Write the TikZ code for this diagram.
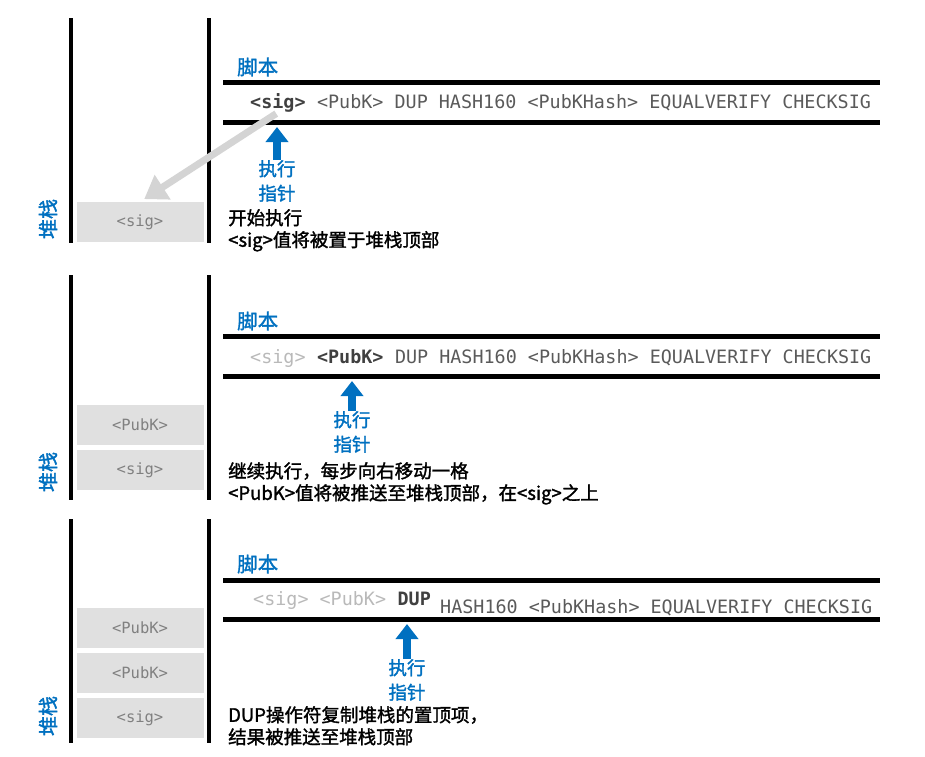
\documentclass[tikz,border=0pt]{standalone}
\usepackage{fontspec}
\setmainfont{Noto Sans CJK SC}
\newfontfamily\heavyfont{Noto Sans CJK SC}[FakeBold=1.6]
\newfontfamily\codefont{DejaVu Sans Mono}
\usetikzlibrary{positioning, arrows.meta}
\definecolor{ptrblue}{RGB}{0,112,192}
\definecolor{cellgray}{RGB}{224,224,224}
\definecolor{codegray}{RGB}{90,90,90}
\definecolor{donegray}{RGB}{185,185,185}
\definecolor{movegray}{RGB}{212,212,212}

\tikzset{
  wall/.style={line width=4.5pt},
  track/.style={line width=5pt},
  cell/.style={fill=cellgray, text=gray, minimum width=127pt, minimum height=40pt, inner sep=0pt, font=\codefont\fontsize{15.5}{17}\selectfont},
  code/.style={inner sep=0pt, text=codegray, anchor=base west, font=\codefont\fontsize{18.4}{20}\selectfont},
  done/.style={code, text=donegray},
  cur/.style={code, text=black!75, font=\codefont\bfseries\fontsize{18.4}{20}\selectfont},
  title/.style={text=ptrblue, inner sep=0pt, anchor=west, font=\heavyfont\fontsize{20.5}{22}\selectfont},
  stk/.style={text=ptrblue, inner sep=0pt, rotate=90, font=\heavyfont\fontsize{20}{22}\selectfont},
  ptr/.style={text=ptrblue, inner sep=0pt, align=center, anchor=north, font=\heavyfont\fontsize{18.5}{24.5}\selectfont},
  ptrarrow/.style={draw=ptrblue, line width=8pt, -{Triangle[width=22pt,length=15pt]}, shorten >=5pt},
  move/.style={draw=movegray, line width=7pt, -{Triangle[width=28pt,length=22pt]}, shorten >=5pt, shorten <=2pt},
  note/.style={inner sep=0pt, align=left, anchor=north west, font=\heavyfont\fontsize{18.5}{22}\selectfont},
}

\begin{document}
\begin{tikzpicture}[x=1pt,y=-1pt]
\useasboundingbox (0,0) rectangle (925,756);

% step 1
\draw[wall] (71,18) -- (71,243);
\draw[wall] (209,18) -- (209,243);
\node[cell] (c1a) at (140,222) {<sig>};
\node[stk] (k1) at (48,219) {堆栈};
\node[title] (t1) at (237,67) {脚本};
\draw[track] (223,82) coordinate (u1) -- (880,82);
\draw[track] (223,122) coordinate (d1) -- (880,122);
\node[cur] (s1) at (250,108.5) {<sig>};
\node[code, base right=0pt of s1] (s1b) {\ <PubK> DUP HASH160 <PubKHash> EQUALVERIFY CHECKSIG};
\draw[move] (s1.south) -- (c1a.north);
\node[ptr] (p1) at (277,160) {执行\\指针};
\draw[ptrarrow] (p1.north) -- (p1.north |- d1);
\node[note] (n1) at (228,209) {开始执行\\<sig>值将被置于堆栈顶部};

% step 2
\draw[wall] (71,275) -- (71,500);
\draw[wall] (209,275) -- (209,500);
\node[cell] (c2b) at (140,425) {<PubK>};
\node[cell] (c2a) at (140,470) {<sig>};
\node[stk] (k2) at (48,472) {堆栈};
\node[title] (t2) at (237,321) {脚本};
\draw[track] (223,336) coordinate (u2) -- (880,336);
\draw[track] (223,376) coordinate (d2) -- (880,376);
\node[done] (s2) at (250,363.5) {<sig>};
\node[cur, base right=0pt of s2] (s2b) {\ <PubK>};
\node[code, base right=0pt of s2b] (s2c) {\ DUP HASH160 <PubKHash> EQUALVERIFY CHECKSIG};
\node[ptr] (p2) at (352,411) {执行\\指针};
\draw[ptrarrow] (p2.north) -- (p2.north |- d2);
\node[note] (n2) at (228,462) {继续执行，每步向右移动一格\\<PubK>值将被推送至堆栈顶部，在<sig>之上};

% step 3
\draw[wall] (71,519) -- (71,743);
\draw[wall] (209,519) -- (209,743);
\node[cell] (c3c) at (140,628) {<PubK>};
\node[cell] (c3b) at (140,673) {<PubK>};
\node[cell] (c3a) at (140,718) {<sig>};
\node[stk] (k3) at (48,716) {堆栈};
\node[title] (t3) at (237,564) {脚本};
\draw[track] (223,580) coordinate (u3) -- (880,580);
\draw[track] (223,619) coordinate (d3) -- (880,619);
\node[done] (s3) at (253,605.5) {<sig> <PubK>};
\node[cur, base right=0pt of s3] (s3b) {\ DUP};
\node[code] (s3c) at (440,613.5) {HASH160 <PubKHash> EQUALVERIFY CHECKSIG};
\node[ptr] (p3) at (407,659) {执行\\指针};
\draw[ptrarrow] (p3.north) -- (p3.north |- d3);
\node[note] (n3) at (228,706) {DUP操作符复制堆栈的置顶项，\\结果被推送至堆栈顶部};
\end{tikzpicture}
\end{document}
